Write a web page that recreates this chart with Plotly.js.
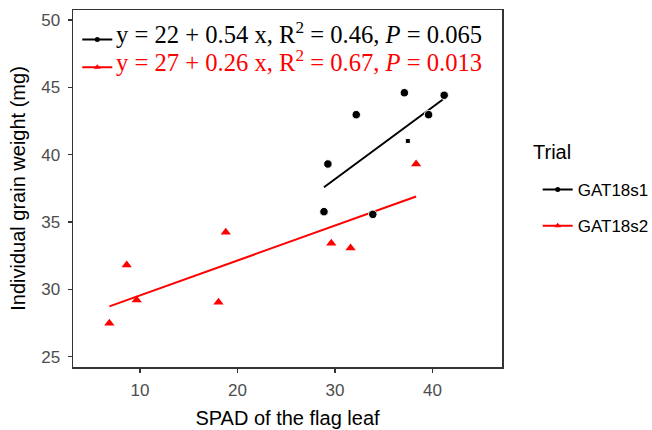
<!DOCTYPE html>
<html><head><meta charset="utf-8">
<script src="https://cdn.plot.ly/plotly-3.0.1.min.js"></script>
<style>html,body{margin:0;padding:0;background:#fff}</style>
</head><body><div id="chart" style="width:652px;height:430px"></div>
<script>
const trials = ['GAT18s1', 'GAT18s2'];
const legendTitle = 'Trial';
const spadS1 = [37.12, 41.2, 32.18, 39.6, 37.47, 29.27, 28.87, 33.88];
const weightS1 = [44.6, 44.41, 42.97, 42.97, 41.02, 39.31, 35.77, 35.57];
const symbolS1 = ['circle', 'circle', 'circle', 'circle', 'square', 'circle', 'circle', 'circle'];
const spadS2 = [6.86, 8.64, 9.66, 18.05, 18.8, 29.62, 31.6, 38.32];
const weightS2 = [27.48, 31.81, 29.21, 29.04, 34.24, 33.42, 33.07, 39.31];
const eqLabels = [
  'y = 22 + 0.54 x, R<sup>2</sup> = 0.46, <i>P</i> = 0.065',
  'y = 27 + 0.26 x, R<sup>2</sup> = 0.67, <i>P</i> = 0.013'
];
const xTicks = [10, 20, 30, 40];
const yTicks = [25, 30, 35, 40, 45, 50];

const colors = ['#000000', '#FF0000'];

function fitLine(x, y) {
  const n = x.length;
  const mx = x.reduce((a, b) => a + b, 0) / n;
  const my = y.reduce((a, b) => a + b, 0) / n;
  let sxy = 0, sxx = 0;
  for (let i = 0; i < n; i++) { sxy += (x[i] - mx) * (y[i] - my); sxx += (x[i] - mx) ** 2; }
  const b = sxy / sxx, a = my - b * mx;
  const lo = Math.min(...x), hi = Math.max(...x);
  return { x: [lo, hi], y: [a + b * lo, a + b * hi] };
}
const f1 = fitLine(spadS1, weightS1);
const f2 = fitLine(spadS2, weightS2);

const traces = [
  { x: f1.x, y: f1.y, mode: 'lines', line: { color: colors[0], width: 2 }, showlegend: false, hoverinfo: 'skip' },
  { x: f2.x, y: f2.y, mode: 'lines', line: { color: colors[1], width: 2 }, showlegend: false, hoverinfo: 'skip' },
  { x: spadS1, y: weightS1, mode: 'markers', marker: { color: colors[0], opacity: 1, size: symbolS1.map(s => s === 'square' ? 5 : 8.5), symbol: symbolS1 }, showlegend: false },
  { x: spadS2, y: weightS2, mode: 'markers', marker: { color: colors[1], opacity: 1, size: 9, symbol: 'triangle-up' }, showlegend: false },
  // right legend
  { x: [null], y: [null], name: trials[0], mode: 'lines+markers', legend: 'legend', legendgroup: 'a',
    line: { color: colors[0], width: 2 }, marker: { color: colors[0], size: 5, symbol: 'circle' } },
  { x: [null], y: [null], name: trials[1], mode: 'lines+markers', legend: 'legend', legendgroup: 'b',
    line: { color: colors[1], width: 2 }, marker: { color: colors[1], size: 6, symbol: 'triangle-up' } },
  // inset legend symbols
  { x: [null], y: [null], name: '\u00a0', mode: 'lines+markers', legend: 'legend2',
    line: { color: colors[0], width: 2 }, marker: { color: colors[0], size: 5, symbol: 'circle' } },
  { x: [null], y: [null], name: '\u00a0', mode: 'lines+markers', legend: 'legend2',
    line: { color: colors[1], width: 2 }, marker: { color: colors[1], size: 6, symbol: 'triangle-up' } }
];

const layout = {
  width: 652, height: 430,
  margin: { l: 73, r: 150, t: 10, b: 63, autoexpand: false },
  paper_bgcolor: '#fff', plot_bgcolor: '#fff',
  font: { family: 'Liberation Sans, Arial, sans-serif', color: '#000' },
  xaxis: {
    range: [3.13, 47.13], tickvals: xTicks, ticktext: xTicks.map(String),
    showgrid: false, zeroline: false, showline: true, mirror: true, linecolor: '#333', linewidth: 1.5,
    ticks: 'outside', ticklen: 4, tickwidth: 1.3, tickcolor: '#333', ticklabelstandoff: 3,
    tickfont: { size: 17, color: '#4D4D4D' },
    title: { text: 'SPAD of the flag leaf', font: { size: 20, color: '#000' }, standoff: 12 }
  },
  yaxis: {
    range: [24.24, 50.74], tickvals: yTicks, ticktext: yTicks.map(String),
    showgrid: false, zeroline: false, showline: true, mirror: true, linecolor: '#333', linewidth: 1.5,
    ticks: 'outside', ticklen: 4, tickwidth: 1.3, tickcolor: '#333', ticklabelstandoff: 4,
    tickfont: { size: 17, color: '#4D4D4D' },
    title: { text: 'Individual grain weight (mg)', font: { size: 20, color: '#000' }, standoff: 10 }
  },
  legend: {
    xref: 'container', yref: 'container',
    x: 0.8247, xanchor: 'left', y: 0.6, yanchor: 'top',
    font: { size: 17, color: '#000' },
    traceorder: 'grouped', tracegroupgap: 11,
    bgcolor: 'rgba(0,0,0,0)', borderwidth: 0
  },
  legend2: {
    x: 0.01, xanchor: 'left', y: 0.97, yanchor: 'top',
    font: { size: 19, color: '#000' },
    bgcolor: 'rgba(0,0,0,0)', borderwidth: 0
  },
  annotations: [
    { xref: 'paper', yref: 'paper', x: 0.0956, y: 0.935, xanchor: 'left', yanchor: 'middle', showarrow: false,
      text: eqLabels[0], font: { family: 'Liberation Serif, Times New Roman, serif', size: 24.6, color: colors[0] } },
    { xref: 'paper', yref: 'paper', x: 0.0956, y: 0.857, xanchor: 'left', yanchor: 'middle', showarrow: false,
      text: eqLabels[1], font: { family: 'Liberation Serif, Times New Roman, serif', size: 24.6, color: colors[1] } },
    { xref: 'paper', yref: 'paper', x: 1.068, y: 0.602, xanchor: 'left', yanchor: 'middle', showarrow: false,
      text: legendTitle, font: { size: 20, color: '#000' } }
  ]
};

Plotly.newPlot('chart', traces, layout, { displayModeBar: false, staticPlot: true });
</script></body></html>
